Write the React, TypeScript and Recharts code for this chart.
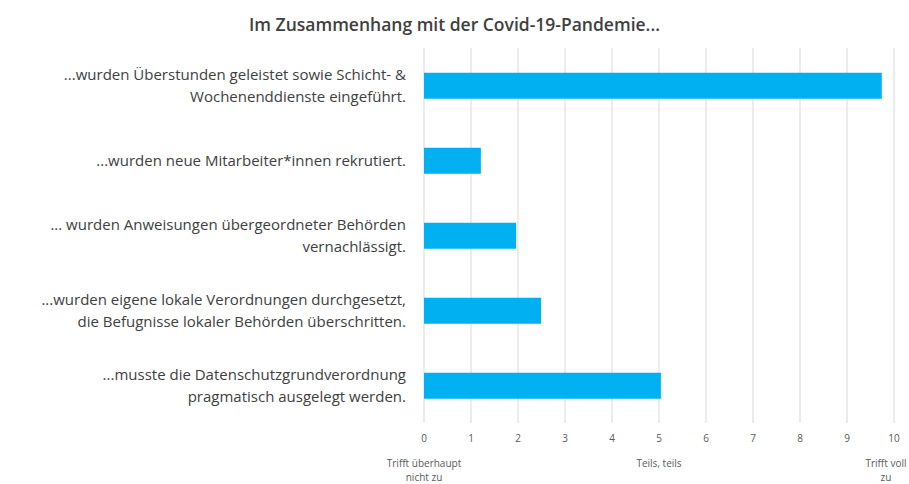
import { BarChart, Bar, XAxis, YAxis, CartesianGrid } from "recharts";

const statements = [
  ["...wurden Überstunden geleistet sowie Schicht- &", "Wochenenddienste eingeführt."],
  ["...wurden neue Mitarbeiter*innen rekrutiert."],
  ["... wurden Anweisungen übergeordneter Behörden", "vernachlässigt."],
  ["...wurden eigene lokale Verordnungen durchgesetzt,", "die Befugnisse lokaler Behörden überschritten."],
  ["...musste die Datenschutzgrundverordnung", "pragmatisch ausgelegt werden."],
];
const scores = [9.74, 1.21, 1.96, 2.49, 5.04];
const xTicks = [0, 1, 2, 3, 4, 5, 6, 7, 8, 9, 10];
const scaleLabels: Record<number, string[]> = {
  0: ["Trifft überhaupt", "nicht zu"],
  5: ["Teils, teils"],
  10: ["Trifft voll", "zu"],
};

const data = statements.map((lines, i) => ({ key: String(i), lines, score: scores[i] }));

const FONT = "'Open Sans', sans-serif";

function StatementTick({ x, y, payload }: any) {
  const lines = statements[Number(payload.value)];
  const lh = 22;
  const top = y - ((lines.length - 1) * lh) / 2;
  return (
    <text x={x} y={top} textAnchor="end" fill="#404040" fontSize={15} fontFamily={FONT}>
      {lines.map((l, i) => (
        <tspan key={i} x={x - 10} y={top + i * lh} dy={5}>
          {l}
        </tspan>
      ))}
    </text>
  );
}

function ScoreTick({ x, y, payload }: any) {
  const extra = scaleLabels[payload.value] || [];
  const cx = payload.value === 10 ? x - 8 : x;
  return (
    <g>
      <text x={x} y={y + 11} textAnchor="middle" fill="#595959" fontSize={10} fontFamily={FONT}>
        {payload.value}
      </text>
      {extra.map((l, i) => (
        <text key={i} x={cx} y={y + 36 + i * 14} textAnchor="middle" fill="#595959" fontSize={10} fontFamily={FONT}>
          {l}
        </text>
      ))}
    </g>
  );
}

export default function App() {
  return (
    <div style={{ position: "absolute", left: 0, top: 0, width: 909, height: 484, background: "#fff", overflow: "hidden" }}>
      <div
        style={{
          position: "absolute",
          top: 12,
          left: 0,
          width: 909,
          textAlign: "center",
          fontFamily: FONT,
          fontWeight: 600,
          fontSize: 17.5,
          color: "#404040",
        }}
      >
        Im Zusammenhang mit der Covid-19-Pandemie...
      </div>
      <BarChart
        width={909}
        height={484}
        data={data}
        layout="vertical"
        margin={{ top: 48, right: 15, bottom: 0, left: 0 }}
        barCategoryGap="33%"
      >
        <CartesianGrid horizontal={false} stroke="#d9d9d9" />
        <XAxis
          type="number"
          domain={[0, 10]}
          ticks={xTicks}
          axisLine={false}
          tickLine={false}
          tick={<ScoreTick />}
          interval={0}
          height={61}
        />
        <YAxis
          type="category"
          dataKey="key"
          width={424}
          axisLine={false}
          tickLine={false}
          tick={<StatementTick />}
        />
        <Bar dataKey="score" fill="#00B0F0" isAnimationActive={false} />
      </BarChart>
    </div>
  );
}
